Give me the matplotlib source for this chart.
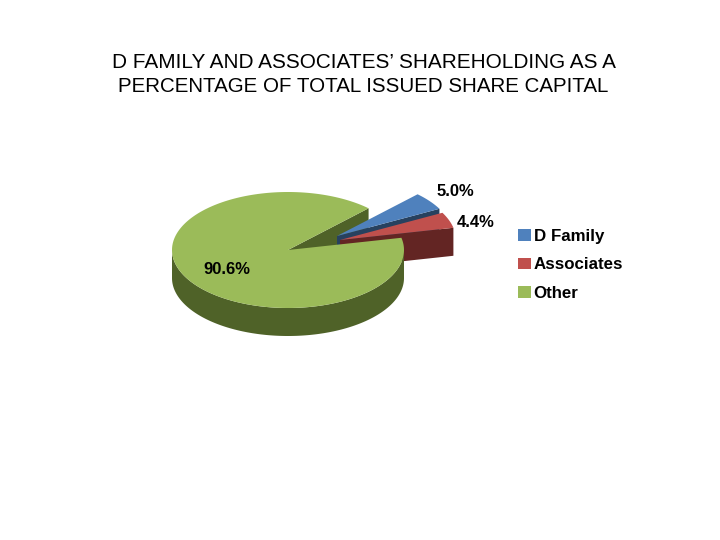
import numpy as np
import matplotlib
matplotlib.use("Agg")
import matplotlib.pyplot as plt
from matplotlib.patches import Polygon, Patch

plt.rcParams['font.family'] = ['Liberation Sans', 'DejaVu Sans']

categories = ["D Family", "Associates", "Other"]
shares = [5.0, 4.4, 90.6]
share_labels = ["5.0%", "4.4%", "90.6%"]
title_lines = ["D FAMILY AND ASSOCIATES\u2019 SHAREHOLDING AS A",
               "PERCENTAGE OF TOTAL ISSUED SHARE CAPITAL"]

top_colors = ["#4F81BD", "#C0504D", "#9BBB59"]
side_colors = ["#27415F", "#632523", "#4F6228"]

# pie geometry in picture pixels
cx, cy = 288, 250
rx, ry = 116, 58
depth = 28
first_angle = 46
offsets = [(49, -14), (52, -10), (0, 0)]


def rim(a0, a1, ox, oy, dz=0):
    t = np.radians(np.linspace(a0, a1, 200))
    return np.column_stack([cx + ox + rx * np.cos(t), cy + oy + dz - ry * np.sin(t)])


fig = plt.figure(figsize=(7.2, 5.4), dpi=100)
ax = fig.add_axes([0, 0, 1, 1])
ax.set_xlim(0, 720)
ax.set_ylim(540, 0)
ax.axis("off")

# clockwise from first_angle, the way the slices run
sweeps = np.array(shares) / sum(shares) * 360
ends = first_angle - np.cumsum(sweeps)
starts = ends + sweeps

# cut face of the big slice, seen through the gap
p_rim = rim(ends[2], ends[2], 0, 0)[0]
ax.add_patch(Polygon([(cx, cy), p_rim, p_rim + [0, depth], (cx, cy + depth)],
                     fc=side_colors[2], ec="none"))

# exploded slices: lower cut face then top
for i in [0, 1]:
    ox, oy = offsets[i]
    apex = np.array([cx + ox, cy + oy])
    edge = rim(ends[i], ends[i], ox, oy)[0]
    ax.add_patch(Polygon([apex, edge, edge + [0, depth], apex + [0, depth]],
                         fc=side_colors[i], ec="none"))
    ax.add_patch(Polygon(np.vstack([apex, rim(starts[i], ends[i], ox, oy)]),
                         fc=top_colors[i], ec="none"))

# big slice: front wall then top
wall = np.vstack([rim(180, 360, 0, 0), rim(360, 180, 0, 0, depth)])
ax.add_patch(Polygon(wall, fc=side_colors[2], ec="none"))
ax.add_patch(Polygon(np.vstack([[cx, cy], rim(starts[2], ends[2], 0, 0)]),
                     fc=top_colors[2], ec="none"))

ax.text(363.5, 62, title_lines[0], ha="center", va="center", fontsize=14.95)
ax.text(363, 86, title_lines[1], ha="center", va="center", fontsize=14.75)

ax.text(455, 191, share_labels[0], ha="center", va="center", fontsize=12, fontweight="bold")
ax.text(476, 222.5, share_labels[1], ha="center", va="center", fontsize=12, fontweight="bold")
ax.text(227, 270, share_labels[2], ha="center", va="center", fontsize=12, fontweight="bold")

handles = [Patch(fc=c, ec="none") for c in top_colors]
leg = ax.legend(handles, categories, loc="upper left", bbox_to_anchor=(502.5 / 720, 1 - 213.5 / 540),
                frameon=False, handlelength=0.76, handleheight=0.67,
                handletextpad=0.18, labelspacing=0.8,
                prop={"size": 12.2, "weight": "bold"})

fig.savefig("out.png", dpi=100)
